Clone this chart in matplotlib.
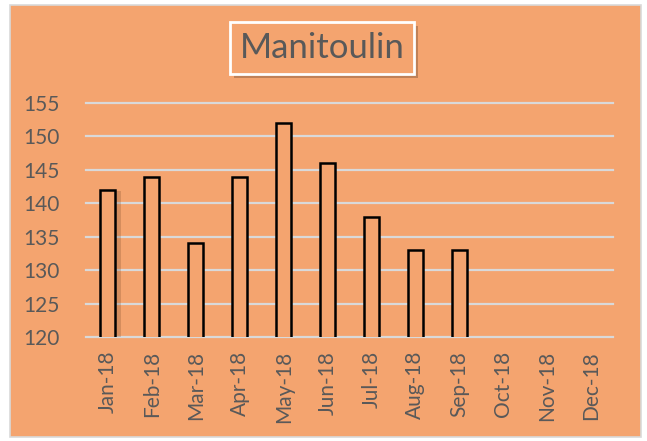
import numpy as np
import matplotlib.pyplot as plt
from matplotlib.patches import Rectangle
import matplotlib.patheffects as pe

plt.rcParams['font.family'] = ['Lato', 'DejaVu Sans']

months = ['Jan-18', 'Feb-18', 'Mar-18', 'Apr-18', 'May-18', 'Jun-18',
          'Jul-18', 'Aug-18', 'Sep-18', 'Oct-18', 'Nov-18', 'Dec-18']
values = [142, 144, 134, 144, 152, 146, 138, 133, 133, np.nan, np.nan, np.nan]
yticks = [120, 125, 130, 135, 140, 145, 150, 155]

ORANGE = '#F4A46F'
GREY_TEXT = '#595959'
GRID = '#D9D9D9'

fig = plt.figure(figsize=(6.47, 4.41), dpi=100)
fig.patch.set_facecolor('white')

# chart area background
frame = Rectangle((10 / 647, 1 - 437 / 441), 631 / 647, 432 / 441,
                  transform=fig.transFigure, facecolor=ORANGE,
                  edgecolor=GRID, linewidth=1.2, zorder=-10)
fig.patches.append(frame)

ax = fig.add_axes([86 / 647, 1 - 337 / 441, 527 / 647, 234 / 441])
ax.set_facecolor('none')

x = np.arange(len(months))
bars = ax.bar(x, values, width=0.34, bottom=0, color=ORANGE,
              edgecolor='black', linewidth=1.8, zorder=3)
bars[0].set_path_effects([pe.SimplePatchShadow(offset=(4, -1), shadow_rgbFace='#7a4a2a', alpha=0.25),
                          pe.Normal()])

ax.set_ylim(120, 155)
ax.set_xlim(-0.5, len(months) - 0.5)
ax.set_yticks(yticks)
ax.set_xticks(x)
ax.set_xticklabels(months, rotation=90)
ax.yaxis.grid(True, color=GRID, linewidth=1.6, zorder=0)
for gl in ax.get_ygridlines():
    gl.set_clip_on(False)
ax.set_axisbelow(True)
for s in ax.spines.values():
    s.set_visible(False)
ax.tick_params(axis='both', length=0, colors=GREY_TEXT, labelsize=15)
ax.tick_params(axis='y', pad=19)
ax.tick_params(axis='x', pad=10)

t = fig.text(322 / 647, 1 - 48 / 441, 'Manitoulin', ha='center', va='center',
             fontsize=25, color=GREY_TEXT,
             bbox=dict(boxstyle='square,pad=0.28', facecolor=ORANGE,
                       edgecolor='white', linewidth=2))
t.get_bbox_patch().set_path_effects([pe.SimplePatchShadow(offset=(3, -3), alpha=0.3), pe.Normal()])

fig.savefig('out.png', dpi=100, facecolor='white')
